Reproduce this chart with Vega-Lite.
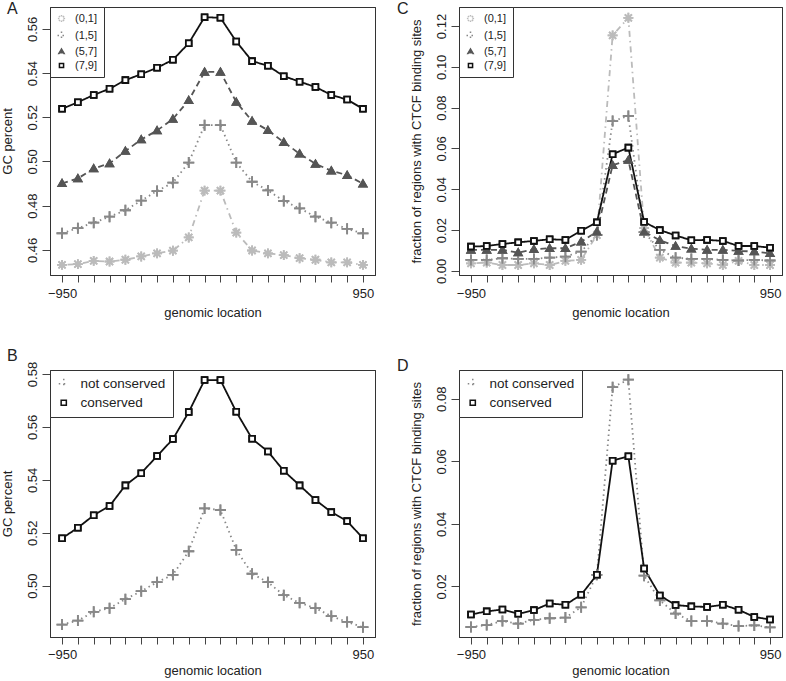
{
  "$schema": "https://vega.github.io/schema/vega-lite/v6.json",
  "padding": 0,
  "background": "white",
  "config": {
    "font": "Liberation Sans",
    "view": {"stroke": "#333333", "strokeWidth": 1},
    "axis": {"labelFont": "Liberation Sans", "labelFontSize": 13, "labelColor": "#222222", "titleFont": "Liberation Sans", "titleFontSize": 13, "titleFontWeight": "normal", "titleColor": "#222222", "tickColor": "#444444", "tickWidth": 1, "grid": false, "domain": true, "domainColor": "#333333", "domainWidth": 1, "labelOverlap": false, "labelFlush": false},
    "axisX": {"tickSize": 7, "labelPadding": 5, "titlePadding": 6},
    "axisY": {"tickSize": 8, "labelAngle": -90, "labelAlign": "center", "labelBaseline": "bottom", "labelPadding": 3, "titleX": -36, "titleAngle": -90, "titleBaseline": "bottom", "titleAlign": "center"},
    "title": {"font": "Liberation Sans", "fontSize": 16, "fontWeight": "normal", "anchor": "start", "frame": "group", "color": "#222222"},
    "legend": {"orient": "top-left", "offset": 0, "strokeColor": "#333333", "fillColor": "white", "labelFont": "Liberation Sans", "labelColor": "#222222", "cornerRadius": 0, "symbolStrokeWidth": 1.5}
  },
  "datasets": {
    "gc_cpg": [
      {"x": -950, "g": "(0,1]", "y": 0.4532}, {"x": -850, "g": "(0,1]", "y": 0.4535}, {"x": -750, "g": "(0,1]", "y": 0.4550}, {"x": -650, "g": "(0,1]", "y": 0.4547}, {"x": -550, "g": "(0,1]", "y": 0.4555}, {"x": -450, "g": "(0,1]", "y": 0.4570}, {"x": -350, "g": "(0,1]", "y": 0.4584}, {"x": -250, "g": "(0,1]", "y": 0.4596}, {"x": -150, "g": "(0,1]", "y": 0.4656}, {"x": -50, "g": "(0,1]", "y": 0.4868}, {"x": 50, "g": "(0,1]", "y": 0.4868}, {"x": 150, "g": "(0,1]", "y": 0.4678}, {"x": 250, "g": "(0,1]", "y": 0.4597}, {"x": 350, "g": "(0,1]", "y": 0.4584}, {"x": 450, "g": "(0,1]", "y": 0.4576}, {"x": 550, "g": "(0,1]", "y": 0.4562}, {"x": 650, "g": "(0,1]", "y": 0.4555}, {"x": 750, "g": "(0,1]", "y": 0.4543}, {"x": 850, "g": "(0,1]", "y": 0.4543}, {"x": 950, "g": "(0,1]", "y": 0.4532},
      {"x": -950, "g": "(1,5]", "y": 0.4675}, {"x": -850, "g": "(1,5]", "y": 0.4698}, {"x": -750, "g": "(1,5]", "y": 0.4723}, {"x": -650, "g": "(1,5]", "y": 0.4750}, {"x": -550, "g": "(1,5]", "y": 0.4779}, {"x": -450, "g": "(1,5]", "y": 0.4823}, {"x": -350, "g": "(1,5]", "y": 0.4866}, {"x": -250, "g": "(1,5]", "y": 0.4904}, {"x": -150, "g": "(1,5]", "y": 0.4995}, {"x": -50, "g": "(1,5]", "y": 0.5164}, {"x": 50, "g": "(1,5]", "y": 0.5164}, {"x": 150, "g": "(1,5]", "y": 0.4995}, {"x": 250, "g": "(1,5]", "y": 0.4908}, {"x": 350, "g": "(1,5]", "y": 0.4869}, {"x": 450, "g": "(1,5]", "y": 0.4821}, {"x": 550, "g": "(1,5]", "y": 0.4788}, {"x": 650, "g": "(1,5]", "y": 0.4750}, {"x": 750, "g": "(1,5]", "y": 0.4723}, {"x": 850, "g": "(1,5]", "y": 0.4695}, {"x": 950, "g": "(1,5]", "y": 0.4674},
      {"x": -950, "g": "(5,7]", "y": 0.4901}, {"x": -850, "g": "(5,7]", "y": 0.4923}, {"x": -750, "g": "(5,7]", "y": 0.4968}, {"x": -650, "g": "(5,7]", "y": 0.4991}, {"x": -550, "g": "(5,7]", "y": 0.5047}, {"x": -450, "g": "(5,7]", "y": 0.5099}, {"x": -350, "g": "(5,7]", "y": 0.5140}, {"x": -250, "g": "(5,7]", "y": 0.5192}, {"x": -150, "g": "(5,7]", "y": 0.5277}, {"x": -50, "g": "(5,7]", "y": 0.5405}, {"x": 50, "g": "(5,7]", "y": 0.5405}, {"x": 150, "g": "(5,7]", "y": 0.5269}, {"x": 250, "g": "(5,7]", "y": 0.5183}, {"x": 350, "g": "(5,7]", "y": 0.5141}, {"x": 450, "g": "(5,7]", "y": 0.5087}, {"x": 550, "g": "(5,7]", "y": 0.5035}, {"x": 650, "g": "(5,7]", "y": 0.4989}, {"x": 750, "g": "(5,7]", "y": 0.4958}, {"x": 850, "g": "(5,7]", "y": 0.4938}, {"x": 950, "g": "(5,7]", "y": 0.4899},
      {"x": -950, "g": "(7,9]", "y": 0.5238}, {"x": -850, "g": "(7,9]", "y": 0.5268}, {"x": -750, "g": "(7,9]", "y": 0.5301}, {"x": -650, "g": "(7,9]", "y": 0.5329}, {"x": -550, "g": "(7,9]", "y": 0.5368}, {"x": -450, "g": "(7,9]", "y": 0.5395}, {"x": -350, "g": "(7,9]", "y": 0.5424}, {"x": -250, "g": "(7,9]", "y": 0.5460}, {"x": -150, "g": "(7,9]", "y": 0.5535}, {"x": -50, "g": "(7,9]", "y": 0.5653}, {"x": 50, "g": "(7,9]", "y": 0.5650}, {"x": 150, "g": "(7,9]", "y": 0.5543}, {"x": 250, "g": "(7,9]", "y": 0.5454}, {"x": 350, "g": "(7,9]", "y": 0.5433}, {"x": 450, "g": "(7,9]", "y": 0.5386}, {"x": 550, "g": "(7,9]", "y": 0.5361}, {"x": 650, "g": "(7,9]", "y": 0.5337}, {"x": 750, "g": "(7,9]", "y": 0.5301}, {"x": 850, "g": "(7,9]", "y": 0.5280}, {"x": 950, "g": "(7,9]", "y": 0.5238}
    ],
    "ctcf_cpg": [
      {"x": -950, "g": "(0,1]", "y": 0.0037}, {"x": -850, "g": "(0,1]", "y": 0.0041}, {"x": -750, "g": "(0,1]", "y": 0.0029}, {"x": -650, "g": "(0,1]", "y": 0.0029}, {"x": -550, "g": "(0,1]", "y": 0.0037}, {"x": -450, "g": "(0,1]", "y": 0.0029}, {"x": -350, "g": "(0,1]", "y": 0.0049}, {"x": -250, "g": "(0,1]", "y": 0.0054}, {"x": -150, "g": "(0,1]", "y": 0.0176}, {"x": -50, "g": "(0,1]", "y": 0.1154}, {"x": 50, "g": "(0,1]", "y": 0.1240}, {"x": 150, "g": "(0,1]", "y": 0.0210}, {"x": 250, "g": "(0,1]", "y": 0.0065}, {"x": 350, "g": "(0,1]", "y": 0.0041}, {"x": 450, "g": "(0,1]", "y": 0.0041}, {"x": 550, "g": "(0,1]", "y": 0.0037}, {"x": 650, "g": "(0,1]", "y": 0.0029}, {"x": 750, "g": "(0,1]", "y": 0.0049}, {"x": 850, "g": "(0,1]", "y": 0.0029}, {"x": 950, "g": "(0,1]", "y": 0.0029},
      {"x": -950, "g": "(1,5]", "y": 0.0054}, {"x": -850, "g": "(1,5]", "y": 0.0054}, {"x": -750, "g": "(1,5]", "y": 0.0062}, {"x": -650, "g": "(1,5]", "y": 0.0059}, {"x": -550, "g": "(1,5]", "y": 0.0059}, {"x": -450, "g": "(1,5]", "y": 0.0065}, {"x": -350, "g": "(1,5]", "y": 0.0070}, {"x": -250, "g": "(1,5]", "y": 0.0095}, {"x": -150, "g": "(1,5]", "y": 0.0176}, {"x": -50, "g": "(1,5]", "y": 0.0734}, {"x": 50, "g": "(1,5]", "y": 0.0759}, {"x": 150, "g": "(1,5]", "y": 0.0190}, {"x": 250, "g": "(1,5]", "y": 0.0103}, {"x": 350, "g": "(1,5]", "y": 0.0065}, {"x": 450, "g": "(1,5]", "y": 0.0059}, {"x": 550, "g": "(1,5]", "y": 0.0059}, {"x": 650, "g": "(1,5]", "y": 0.0054}, {"x": 750, "g": "(1,5]", "y": 0.0051}, {"x": 850, "g": "(1,5]", "y": 0.0054}, {"x": 950, "g": "(1,5]", "y": 0.0051},
      {"x": -950, "g": "(5,7]", "y": 0.0103}, {"x": -850, "g": "(5,7]", "y": 0.0103}, {"x": -750, "g": "(5,7]", "y": 0.0103}, {"x": -650, "g": "(5,7]", "y": 0.0090}, {"x": -550, "g": "(5,7]", "y": 0.0106}, {"x": -450, "g": "(5,7]", "y": 0.0111}, {"x": -350, "g": "(5,7]", "y": 0.0111}, {"x": -250, "g": "(5,7]", "y": 0.0143}, {"x": -150, "g": "(5,7]", "y": 0.0192}, {"x": -50, "g": "(5,7]", "y": 0.0518}, {"x": 50, "g": "(5,7]", "y": 0.0543}, {"x": 150, "g": "(5,7]", "y": 0.0192}, {"x": 250, "g": "(5,7]", "y": 0.0150}, {"x": 350, "g": "(5,7]", "y": 0.0122}, {"x": 450, "g": "(5,7]", "y": 0.0109}, {"x": 550, "g": "(5,7]", "y": 0.0103}, {"x": 650, "g": "(5,7]", "y": 0.0103}, {"x": 750, "g": "(5,7]", "y": 0.0098}, {"x": 850, "g": "(5,7]", "y": 0.0095}, {"x": 950, "g": "(5,7]", "y": 0.0086},
      {"x": -950, "g": "(7,9]", "y": 0.0119}, {"x": -850, "g": "(7,9]", "y": 0.0122}, {"x": -750, "g": "(7,9]", "y": 0.0132}, {"x": -650, "g": "(7,9]", "y": 0.0140}, {"x": -550, "g": "(7,9]", "y": 0.0147}, {"x": -450, "g": "(7,9]", "y": 0.0155}, {"x": -350, "g": "(7,9]", "y": 0.0152}, {"x": -250, "g": "(7,9]", "y": 0.0197}, {"x": -150, "g": "(7,9]", "y": 0.0238}, {"x": -50, "g": "(7,9]", "y": 0.0572}, {"x": 50, "g": "(7,9]", "y": 0.0604}, {"x": 150, "g": "(7,9]", "y": 0.0240}, {"x": 250, "g": "(7,9]", "y": 0.0200}, {"x": 350, "g": "(7,9]", "y": 0.0174}, {"x": 450, "g": "(7,9]", "y": 0.0150}, {"x": 550, "g": "(7,9]", "y": 0.0152}, {"x": 650, "g": "(7,9]", "y": 0.0147}, {"x": 750, "g": "(7,9]", "y": 0.0122}, {"x": 850, "g": "(7,9]", "y": 0.0122}, {"x": 950, "g": "(7,9]", "y": 0.0114}
    ],
    "gc_cons": [
      {"x": -950, "g": "not conserved", "y": 0.4853}, {"x": -850, "g": "not conserved", "y": 0.4868}, {"x": -750, "g": "not conserved", "y": 0.4901}, {"x": -650, "g": "not conserved", "y": 0.4915}, {"x": -550, "g": "not conserved", "y": 0.4949}, {"x": -450, "g": "not conserved", "y": 0.4979}, {"x": -350, "g": "not conserved", "y": 0.5013}, {"x": -250, "g": "not conserved", "y": 0.5041}, {"x": -150, "g": "not conserved", "y": 0.5130}, {"x": -50, "g": "not conserved", "y": 0.5292}, {"x": 50, "g": "not conserved", "y": 0.5286}, {"x": 150, "g": "not conserved", "y": 0.5135}, {"x": 250, "g": "not conserved", "y": 0.5045}, {"x": 350, "g": "not conserved", "y": 0.5013}, {"x": 450, "g": "not conserved", "y": 0.4964}, {"x": 550, "g": "not conserved", "y": 0.4935}, {"x": 650, "g": "not conserved", "y": 0.4915}, {"x": 750, "g": "not conserved", "y": 0.4885}, {"x": 850, "g": "not conserved", "y": 0.4863}, {"x": 950, "g": "not conserved", "y": 0.4843},
      {"x": -950, "g": "conserved", "y": 0.5179}, {"x": -850, "g": "conserved", "y": 0.5219}, {"x": -750, "g": "conserved", "y": 0.5266}, {"x": -650, "g": "conserved", "y": 0.5301}, {"x": -550, "g": "conserved", "y": 0.5379}, {"x": -450, "g": "conserved", "y": 0.5425}, {"x": -350, "g": "conserved", "y": 0.5490}, {"x": -250, "g": "conserved", "y": 0.5554}, {"x": -150, "g": "conserved", "y": 0.5656}, {"x": -50, "g": "conserved", "y": 0.5777}, {"x": 50, "g": "conserved", "y": 0.5777}, {"x": 150, "g": "conserved", "y": 0.5657}, {"x": 250, "g": "conserved", "y": 0.5555}, {"x": 350, "g": "conserved", "y": 0.5507}, {"x": 450, "g": "conserved", "y": 0.5434}, {"x": 550, "g": "conserved", "y": 0.5379}, {"x": 650, "g": "conserved", "y": 0.5324}, {"x": 750, "g": "conserved", "y": 0.5278}, {"x": 850, "g": "conserved", "y": 0.5244}, {"x": 950, "g": "conserved", "y": 0.5179}
    ],
    "ctcf_cons": [
      {"x": -950, "g": "not conserved", "y": 0.0070}, {"x": -850, "g": "not conserved", "y": 0.0076}, {"x": -750, "g": "not conserved", "y": 0.0089}, {"x": -650, "g": "not conserved", "y": 0.0081}, {"x": -550, "g": "not conserved", "y": 0.0093}, {"x": -450, "g": "not conserved", "y": 0.0098}, {"x": -350, "g": "not conserved", "y": 0.0100}, {"x": -250, "g": "not conserved", "y": 0.0133}, {"x": -150, "g": "not conserved", "y": 0.0237}, {"x": -50, "g": "not conserved", "y": 0.0837}, {"x": 50, "g": "not conserved", "y": 0.0861}, {"x": 150, "g": "not conserved", "y": 0.0234}, {"x": 250, "g": "not conserved", "y": 0.0155}, {"x": 350, "g": "not conserved", "y": 0.0113}, {"x": 450, "g": "not conserved", "y": 0.0089}, {"x": 550, "g": "not conserved", "y": 0.0089}, {"x": 650, "g": "not conserved", "y": 0.0081}, {"x": 750, "g": "not conserved", "y": 0.0073}, {"x": 850, "g": "not conserved", "y": 0.0075}, {"x": 950, "g": "not conserved", "y": 0.0069},
      {"x": -950, "g": "conserved", "y": 0.0110}, {"x": -850, "g": "conserved", "y": 0.0120}, {"x": -750, "g": "conserved", "y": 0.0126}, {"x": -650, "g": "conserved", "y": 0.0112}, {"x": -550, "g": "conserved", "y": 0.0124}, {"x": -450, "g": "conserved", "y": 0.0145}, {"x": -350, "g": "conserved", "y": 0.0141}, {"x": -250, "g": "conserved", "y": 0.0173}, {"x": -150, "g": "conserved", "y": 0.0237}, {"x": -50, "g": "conserved", "y": 0.0602}, {"x": 50, "g": "conserved", "y": 0.0616}, {"x": 150, "g": "conserved", "y": 0.0257}, {"x": 250, "g": "conserved", "y": 0.0171}, {"x": 350, "g": "conserved", "y": 0.0140}, {"x": 450, "g": "conserved", "y": 0.0136}, {"x": 550, "g": "conserved", "y": 0.0134}, {"x": 650, "g": "conserved", "y": 0.0141}, {"x": 750, "g": "conserved", "y": 0.0125}, {"x": 850, "g": "conserved", "y": 0.0102}, {"x": 950, "g": "conserved", "y": 0.0094}
    ]
  },
  "spacing": 27,
  "resolve": {"scale": {"color": "independent", "shape": "independent", "fill": "independent", "strokeDash": "independent"}, "legend": {"color": "independent", "shape": "independent", "fill": "independent", "strokeDash": "independent"}},
  "vconcat": [
    {
      "spacing": 20,
      "resolve": {"scale": {"color": "independent", "shape": "independent", "fill": "independent", "strokeDash": "independent"}, "legend": {"color": "independent", "shape": "independent", "fill": "independent", "strokeDash": "independent"}},
      "hconcat": [
        {
          "width": 325, "height": 268,
          "title": {"text": "A", "offset": -10, "dx": -43},
          "data": {"name": "gc_cpg"},
          "resolve": {"axis": {"x": "independent", "y": "independent"}},
          "layer": [
            {"mark": {"type": "point", "filled": false, "strokeWidth": 1.8, "opacity": 1, "size": 121},
             "encoding": {
               "x": {"field": "x", "type": "quantitative", "scale": {"domain": [-1026, 1026], "nice": false, "zero": false}, "axis": {"values": [-950, -850, -750, -650, -550, -450, -350, -250, -150, -50, 50, 150, 250, 350, 450, 550, 650, 750, 850, 950], "labelExpr": "datum.value === -950 || datum.value === 950 ? datum.label : ''", "title": "genomic location"}},
               "y": {"field": "y", "type": "quantitative", "scale": {"domain": [0.4486, 0.5699], "nice": false, "zero": false}, "axis": {"values": [0.46, 0.48, 0.50, 0.52, 0.54, 0.56], "format": ".2f", "title": "GC percent", "titleY": 134}},
               "color": {"field": "g", "type": "nominal", "scale": {"domain": ["(0,1]", "(1,5]", "(5,7]", "(7,9]"], "range": ["#bbbbbb", "#888888", "#555555", "#111111"]},
                 "legend": {"title": null, "symbolSize": 64, "labelFontSize": 11, "labelOffset": 8, "padding": 6, "rowPadding": 2}},
               "shape": {"field": "g", "type": "nominal", "scale": {"domain": ["(0,1]", "(1,5]", "(5,7]", "(7,9]"], "range": ["M-0.9,0L0.9,0M0,-0.9L0,0.9M-0.64,-0.64L0.64,0.64M-0.64,0.64L0.64,-0.64", "M-1,0L1,0M0,-1L0,1", "M0,-0.62L0.66,0.52L-0.66,0.52Z", "M-0.52,-0.52L0.52,-0.52L0.52,0.52L-0.52,0.52Z"]}},
               "fill": {"field": "g", "type": "nominal", "scale": {"domain": ["(0,1]", "(1,5]", "(5,7]", "(7,9]"], "range": ["transparent", "transparent", "#555555", "white"]}}
             }},
            {"mark": {"type": "line", "strokeWidth": 1.8},
             "encoding": {
               "x": {"field": "x", "type": "quantitative", "axis": {"orient": "top", "labels": false, "ticks": false, "title": null}},
               "y": {"field": "y", "type": "quantitative", "axis": {"orient": "right", "labels": false, "ticks": false, "title": null}},
               "color": {"field": "g", "type": "nominal", "scale": {"domain": ["(0,1]", "(1,5]", "(5,7]", "(7,9]"], "range": ["#bbbbbb", "#888888", "#555555", "#111111"]}},
               "strokeDash": {"field": "g", "type": "nominal", "scale": {"domain": ["(0,1]", "(1,5]", "(5,7]", "(7,9]"], "range": [[1.5, 4, 6, 4], [1.5, 3.5], [6, 4], [1, 0]]}}
             }},
            {"mark": {"type": "point", "filled": false, "strokeWidth": 1.8, "opacity": 1, "size": 121},
             "encoding": {
               "x": {"field": "x", "type": "quantitative", "axis": null},
               "y": {"field": "y", "type": "quantitative", "axis": null},
               "color": {"field": "g", "type": "nominal", "scale": {"domain": ["(0,1]", "(1,5]", "(5,7]", "(7,9]"], "range": ["#bbbbbb", "#888888", "#555555", "#111111"]}},
               "shape": {"field": "g", "type": "nominal", "scale": {"domain": ["(0,1]", "(1,5]", "(5,7]", "(7,9]"], "range": ["M-0.9,0L0.9,0M0,-0.9L0,0.9M-0.64,-0.64L0.64,0.64M-0.64,0.64L0.64,-0.64", "M-1,0L1,0M0,-1L0,1", "M0,-0.62L0.66,0.52L-0.66,0.52Z", "M-0.52,-0.52L0.52,-0.52L0.52,0.52L-0.52,0.52Z"]}},
               "fill": {"field": "g", "type": "nominal", "scale": {"domain": ["(0,1]", "(1,5]", "(5,7]", "(7,9]"], "range": ["transparent", "transparent", "#555555", "white"]}}
             }}
          ]
        },
        {
          "width": 323, "height": 268,
          "title": {"text": "C", "offset": -10, "dx": -62},
          "data": {"name": "ctcf_cpg"},
          "resolve": {"axis": {"x": "independent", "y": "independent"}},
          "layer": [
            {"mark": {"type": "point", "filled": false, "strokeWidth": 1.8, "opacity": 1, "size": 121},
             "encoding": {
               "x": {"field": "x", "type": "quantitative", "scale": {"domain": [-1026, 1026], "nice": false, "zero": false}, "axis": {"values": [-950, -850, -750, -650, -550, -450, -350, -250, -150, -50, 50, 150, 250, 350, 450, 550, 650, 750, 850, 950], "labelExpr": "datum.value === -950 || datum.value === 950 ? datum.label : ''", "title": "genomic location"}},
               "y": {"field": "y", "type": "quantitative", "scale": {"domain": [-0.002, 0.1293], "nice": false, "zero": false}, "axis": {"values": [0, 0.02, 0.04, 0.06, 0.08, 0.10, 0.12], "format": ".2f", "title": "fraction of regions with CTCF binding sites", "titleY": 134}},
               "color": {"field": "g", "type": "nominal", "scale": {"domain": ["(0,1]", "(1,5]", "(5,7]", "(7,9]"], "range": ["#bbbbbb", "#888888", "#555555", "#111111"]},
                 "legend": {"title": null, "symbolSize": 64, "labelFontSize": 11, "labelOffset": 8, "padding": 6, "rowPadding": 2}},
               "shape": {"field": "g", "type": "nominal", "scale": {"domain": ["(0,1]", "(1,5]", "(5,7]", "(7,9]"], "range": ["M-0.9,0L0.9,0M0,-0.9L0,0.9M-0.64,-0.64L0.64,0.64M-0.64,0.64L0.64,-0.64", "M-1,0L1,0M0,-1L0,1", "M0,-0.62L0.66,0.52L-0.66,0.52Z", "M-0.52,-0.52L0.52,-0.52L0.52,0.52L-0.52,0.52Z"]}},
               "fill": {"field": "g", "type": "nominal", "scale": {"domain": ["(0,1]", "(1,5]", "(5,7]", "(7,9]"], "range": ["transparent", "transparent", "#555555", "white"]}}
             }},
            {"mark": {"type": "line", "strokeWidth": 1.8},
             "encoding": {
               "x": {"field": "x", "type": "quantitative", "axis": {"orient": "top", "labels": false, "ticks": false, "title": null}},
               "y": {"field": "y", "type": "quantitative", "axis": {"orient": "right", "labels": false, "ticks": false, "title": null}},
               "color": {"field": "g", "type": "nominal", "scale": {"domain": ["(0,1]", "(1,5]", "(5,7]", "(7,9]"], "range": ["#bbbbbb", "#888888", "#555555", "#111111"]}},
               "strokeDash": {"field": "g", "type": "nominal", "scale": {"domain": ["(0,1]", "(1,5]", "(5,7]", "(7,9]"], "range": [[1.5, 4, 6, 4], [1.5, 3.5], [6, 4], [1, 0]]}}
             }},
            {"mark": {"type": "point", "filled": false, "strokeWidth": 1.8, "opacity": 1, "size": 121},
             "encoding": {
               "x": {"field": "x", "type": "quantitative", "axis": null},
               "y": {"field": "y", "type": "quantitative", "axis": null},
               "color": {"field": "g", "type": "nominal", "scale": {"domain": ["(0,1]", "(1,5]", "(5,7]", "(7,9]"], "range": ["#bbbbbb", "#888888", "#555555", "#111111"]}},
               "shape": {"field": "g", "type": "nominal", "scale": {"domain": ["(0,1]", "(1,5]", "(5,7]", "(7,9]"], "range": ["M-0.9,0L0.9,0M0,-0.9L0,0.9M-0.64,-0.64L0.64,0.64M-0.64,0.64L0.64,-0.64", "M-1,0L1,0M0,-1L0,1", "M0,-0.62L0.66,0.52L-0.66,0.52Z", "M-0.52,-0.52L0.52,-0.52L0.52,0.52L-0.52,0.52Z"]}},
               "fill": {"field": "g", "type": "nominal", "scale": {"domain": ["(0,1]", "(1,5]", "(5,7]", "(7,9]"], "range": ["transparent", "transparent", "#555555", "white"]}}
             }}
          ]
        }
      ]
    },
    {
      "spacing": 20,
      "resolve": {"scale": {"color": "independent", "shape": "independent", "fill": "independent", "strokeDash": "independent"}, "legend": {"color": "independent", "shape": "independent", "fill": "independent", "strokeDash": "independent"}},
      "hconcat": [
        {
          "width": 325, "height": 267,
          "title": {"text": "B", "offset": -3, "dx": -43},
          "data": {"name": "gc_cons"},
          "resolve": {"axis": {"x": "independent", "y": "independent"}},
          "layer": [
            {"mark": {"type": "point", "filled": false, "strokeWidth": 1.8, "opacity": 1, "size": 121},
             "encoding": {
               "x": {"field": "x", "type": "quantitative", "scale": {"domain": [-1026, 1026], "nice": false, "zero": false}, "axis": {"values": [-950, -850, -750, -650, -550, -450, -350, -250, -150, -50, 50, 150, 250, 350, 450, 550, 650, 750, 850, 950], "labelExpr": "datum.value === -950 || datum.value === 950 ? datum.label : ''", "title": "genomic location", "labelPadding": 4, "titlePadding": 3}},
               "y": {"field": "y", "type": "quantitative", "scale": {"domain": [0.4806, 0.5815], "nice": false, "zero": false}, "axis": {"values": [0.50, 0.52, 0.54, 0.56, 0.58], "format": ".2f", "title": "GC percent", "titleY": 133.5}},
               "color": {"field": "g", "type": "nominal", "scale": {"domain": ["not conserved", "conserved"], "range": ["#888888", "#111111"]},
                 "legend": {"title": null, "symbolSize": 100, "labelFontSize": 13.5, "labelOffset": 10, "padding": 7, "rowPadding": 3}},
               "shape": {"field": "g", "type": "nominal", "scale": {"domain": ["not conserved", "conserved"], "range": ["M-1,0L1,0M0,-1L0,1", "M-0.52,-0.52L0.52,-0.52L0.52,0.52L-0.52,0.52Z"]}},
               "fill": {"field": "g", "type": "nominal", "scale": {"domain": ["not conserved", "conserved"], "range": ["transparent", "white"]}}
             }},
            {"mark": {"type": "line", "strokeWidth": 1.8},
             "encoding": {
               "x": {"field": "x", "type": "quantitative", "axis": {"orient": "top", "labels": false, "ticks": false, "title": null}},
               "y": {"field": "y", "type": "quantitative", "axis": {"orient": "right", "labels": false, "ticks": false, "title": null}},
               "color": {"field": "g", "type": "nominal", "scale": {"domain": ["not conserved", "conserved"], "range": ["#888888", "#111111"]}},
               "strokeDash": {"field": "g", "type": "nominal", "scale": {"domain": ["not conserved", "conserved"], "range": [[1.5, 3.5], [1, 0]]}}
             }},
            {"mark": {"type": "point", "filled": false, "strokeWidth": 1.8, "opacity": 1, "size": 121},
             "encoding": {
               "x": {"field": "x", "type": "quantitative", "axis": null},
               "y": {"field": "y", "type": "quantitative", "axis": null},
               "color": {"field": "g", "type": "nominal", "scale": {"domain": ["not conserved", "conserved"], "range": ["#888888", "#111111"]}},
               "shape": {"field": "g", "type": "nominal", "scale": {"domain": ["not conserved", "conserved"], "range": ["M-1,0L1,0M0,-1L0,1", "M-0.52,-0.52L0.52,-0.52L0.52,0.52L-0.52,0.52Z"]}},
               "fill": {"field": "g", "type": "nominal", "scale": {"domain": ["not conserved", "conserved"], "range": ["transparent", "white"]}}
             }}
          ]
        },
        {
          "width": 323, "height": 267,
          "title": {"text": "D", "offset": -4, "dx": -62},
          "data": {"name": "ctcf_cons"},
          "resolve": {"axis": {"x": "independent", "y": "independent"}},
          "layer": [
            {"mark": {"type": "point", "filled": false, "strokeWidth": 1.8, "opacity": 1, "size": 121},
             "encoding": {
               "x": {"field": "x", "type": "quantitative", "scale": {"domain": [-1026, 1026], "nice": false, "zero": false}, "axis": {"values": [-950, -850, -750, -650, -550, -450, -350, -250, -150, -50, 50, 150, 250, 350, 450, 550, 650, 750, 850, 950], "labelExpr": "datum.value === -950 || datum.value === 950 ? datum.label : ''", "title": "genomic location", "labelPadding": 4, "titlePadding": 3}},
               "y": {"field": "y", "type": "quantitative", "scale": {"domain": [0.0038, 0.0892], "nice": false, "zero": false}, "axis": {"values": [0.02, 0.04, 0.06, 0.08], "format": ".2f", "title": "fraction of regions with CTCF binding sites", "titleY": 133.5}},
               "color": {"field": "g", "type": "nominal", "scale": {"domain": ["not conserved", "conserved"], "range": ["#888888", "#111111"]},
                 "legend": {"title": null, "symbolSize": 100, "labelFontSize": 13.5, "labelOffset": 10, "padding": 7, "rowPadding": 3}},
               "shape": {"field": "g", "type": "nominal", "scale": {"domain": ["not conserved", "conserved"], "range": ["M-1,0L1,0M0,-1L0,1", "M-0.52,-0.52L0.52,-0.52L0.52,0.52L-0.52,0.52Z"]}},
               "fill": {"field": "g", "type": "nominal", "scale": {"domain": ["not conserved", "conserved"], "range": ["transparent", "white"]}}
             }},
            {"mark": {"type": "line", "strokeWidth": 1.8},
             "encoding": {
               "x": {"field": "x", "type": "quantitative", "axis": {"orient": "top", "labels": false, "ticks": false, "title": null}},
               "y": {"field": "y", "type": "quantitative", "axis": {"orient": "right", "labels": false, "ticks": false, "title": null}},
               "color": {"field": "g", "type": "nominal", "scale": {"domain": ["not conserved", "conserved"], "range": ["#888888", "#111111"]}},
               "strokeDash": {"field": "g", "type": "nominal", "scale": {"domain": ["not conserved", "conserved"], "range": [[1.5, 3.5], [1, 0]]}}
             }},
            {"mark": {"type": "point", "filled": false, "strokeWidth": 1.8, "opacity": 1, "size": 121},
             "encoding": {
               "x": {"field": "x", "type": "quantitative", "axis": null},
               "y": {"field": "y", "type": "quantitative", "axis": null},
               "color": {"field": "g", "type": "nominal", "scale": {"domain": ["not conserved", "conserved"], "range": ["#888888", "#111111"]}},
               "shape": {"field": "g", "type": "nominal", "scale": {"domain": ["not conserved", "conserved"], "range": ["M-1,0L1,0M0,-1L0,1", "M-0.52,-0.52L0.52,-0.52L0.52,0.52L-0.52,0.52Z"]}},
               "fill": {"field": "g", "type": "nominal", "scale": {"domain": ["not conserved", "conserved"], "range": ["transparent", "white"]}}
             }}
          ]
        }
      ]
    }
  ]
}
